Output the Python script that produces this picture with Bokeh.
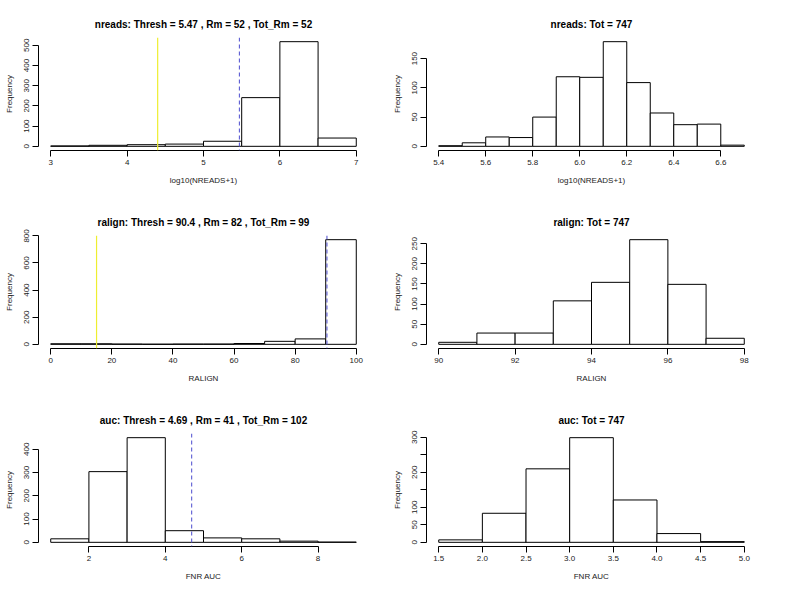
from bokeh.plotting import figure
from bokeh.layouts import gridplot
from bokeh.models import Range1d, FixedTicker, Span, ColumnDataSource
from bokeh.embed import file_html
from bokeh.resources import INLINE

# ---------------- data ----------------
nreads_all_edges = [3.0, 3.5, 4.0, 4.5, 5.0, 5.5, 6.0, 6.5, 7.0]
nreads_all_counts = [2, 5, 8, 11, 25, 241, 518, 41]
nreads_kept_edges = [5.4, 5.5, 5.6, 5.7, 5.8, 5.9, 6.0, 6.1, 6.2, 6.3, 6.4, 6.5, 6.6, 6.7]
nreads_kept_counts = [1, 6, 16, 15, 50, 119, 118, 179, 109, 57, 37, 38, 2]

ralign_all_edges = [0, 10, 20, 30, 40, 50, 60, 70, 80, 90, 100]
ralign_all_counts = [4, 4, 2, 1, 2, 2, 6, 22, 40, 772]
ralign_kept_edges = [90, 91, 92, 93, 94, 95, 96, 97, 98]
ralign_kept_counts = [5, 28, 28, 108, 154, 260, 149, 15]

auc_all_edges = [1, 2, 3, 4, 5, 6, 7, 8, 9]
auc_all_counts = [15, 304, 450, 50, 19, 15, 5, 1]
auc_kept_edges = [1.5, 2.0, 2.5, 3.0, 3.5, 4.0, 4.5, 5.0]
auc_kept_counts = [7, 83, 210, 299, 121, 25, 2]

thresholds = {"nreads": 5.47, "ralign": 90.4, "auc": 4.69}
yellow_lines = {"nreads": 4.40, "ralign": 15.0, "auc": None}

titles = [
    "nreads: Thresh = 5.47 , Rm = 52 , Tot_Rm = 52",
    "nreads: Tot = 747",
    "ralign: Thresh = 90.4 , Rm = 82 , Tot_Rm = 99",
    "ralign: Tot = 747",
    "auc: Thresh = 4.69 , Rm = 41 , Tot_Rm = 102",
    "auc: Tot = 747",
]
xlabels = ["log10(NREADS+1)", "log10(NREADS+1)", "RALIGN", "RALIGN", "FNR AUC", "FNR AUC"]

x_ticks = [
    [3, 4, 5, 6, 7],
    [5.4, 5.6, 5.8, 6.0, 6.2, 6.4, 6.6],
    [0, 20, 40, 60, 80, 100],
    [90, 92, 94, 96, 98],
    [2, 4, 6, 8],
    [1.5, 2.0, 2.5, 3.0, 3.5, 4.0, 4.5, 5.0],
]
x_tick_labels = [
    ["3", "4", "5", "6", "7"],
    ["5.4", "5.6", "5.8", "6.0", "6.2", "6.4", "6.6"],
    ["0", "20", "40", "60", "80", "100"],
    ["90", "92", "94", "96", "98"],
    ["2", "4", "6", "8"],
    ["1.5", "2.0", "2.5", "3.0", "3.5", "4.0", "4.5", "5.0"],
]
y_ticks = [
    [0, 100, 200, 300, 400, 500],
    [0, 50, 100, 150],
    [0, 200, 400, 600, 800],
    [0, 50, 100, 150, 200, 250],
    [0, 100, 200, 300, 400],
    [0, 50, 100, 150, 200, 250, 300],
]
y_tick_labels = [
    ["0", "100", "200", "300", "400", "500"],
    ["0", "50", "100", "150"],
    ["0", "200", "400", "600", "800"],
    ["0", "50", "100", "150", "200", "250"],
    ["0", "100", "200", "300", "400"],
    ["0", "50", "100", "", "200", "", "300"],
]

FONT = "Liberation Sans"
TXT = "#222222"


def make_panel(i, edges, counts, thresh=None, yellow=None):
    lo, hi = edges[0], edges[-1]
    pad = 0.04 * (hi - lo)
    ymax = max(counts)
    p = figure(
        frame_width=330, frame_height=113,
        min_border_left=38, min_border_right=20,
        min_border_top=37, min_border_bottom=48,
        x_range=Range1d(lo - pad, hi + pad),
        y_range=Range1d(-0.04 * ymax, 1.04 * ymax),
        output_backend="svg", toolbar_location=None,
        background_fill_color="white", border_fill_color="white",
    )
    p.outline_line_color = None
    p.xgrid.visible = False
    p.ygrid.visible = False

    src = ColumnDataSource(dict(left=edges[:-1], right=edges[1:], top=counts))
    p.quad(left="left", right="right", top="top", bottom=0, source=src,
           fill_color="white", line_color="black", line_width=1)

    if yellow is not None:
        p.add_layout(Span(location=yellow, dimension="height",
                          line_color="#eeee30", line_width=1.2))
    if thresh is not None:
        p.add_layout(Span(location=thresh, dimension="height",
                          line_color="#5a5ad2", line_width=1.1, line_dash="4 3"))

    # title
    p.title.text = titles[i]
    p.title.align = "center"
    p.title.text_font = FONT
    p.title.text_font_size = "10px"
    p.title.text_font_style = "bold"
    p.title.text_color = "black"
    p.title.standoff = 15

    xt = x_ticks[i]
    yt = y_ticks[i]
    for ax, ticks, labels, lab in (
        (p.xaxis[0], xt, x_tick_labels[i], xlabels[i]),
        (p.yaxis[0], yt, y_tick_labels[i], "Frequency"),
    ):
        ax.ticker = FixedTicker(ticks=ticks)
        ax.major_label_overrides = {t: l for t, l in zip(ticks, labels)}
        ax.bounds = (ticks[0], ticks[-1])
        ax.axis_label = lab
        ax.axis_label_text_font = FONT
        ax.axis_label_text_font_size = "8px"
        ax.axis_label_text_font_style = "normal"
        ax.axis_label_text_color = TXT
        ax.major_label_text_font = FONT
        ax.major_label_text_font_size = "8px"
        ax.major_label_text_color = TXT
        ax.axis_line_color = "black"
        ax.major_tick_line_color = "black"
        ax.major_tick_out = 6
        ax.major_tick_in = 0
        ax.minor_tick_line_color = None
    p.xaxis[0].major_label_standoff = 3
    p.xaxis[0].axis_label_standoff = 8
    p.yaxis[0].major_label_orientation = "vertical"
    p.yaxis[0].major_label_standoff = 3
    p.yaxis[0].axis_label_standoff = 8
    return p


p1 = make_panel(0, nreads_all_edges, nreads_all_counts, thresholds["nreads"], yellow_lines["nreads"])
p2 = make_panel(1, nreads_kept_edges, nreads_kept_counts)
p3 = make_panel(2, ralign_all_edges, ralign_all_counts, thresholds["ralign"], yellow_lines["ralign"])
p4 = make_panel(3, ralign_kept_edges, ralign_kept_counts)
p5 = make_panel(4, auc_all_edges, auc_all_counts, thresholds["auc"], yellow_lines["auc"])
p6 = make_panel(5, auc_kept_edges, auc_kept_counts)

grid = gridplot([[p1, p2], [p3, p4], [p5, p6]], toolbar_location=None)

open("out.html", "w").write(file_html(grid, INLINE))
